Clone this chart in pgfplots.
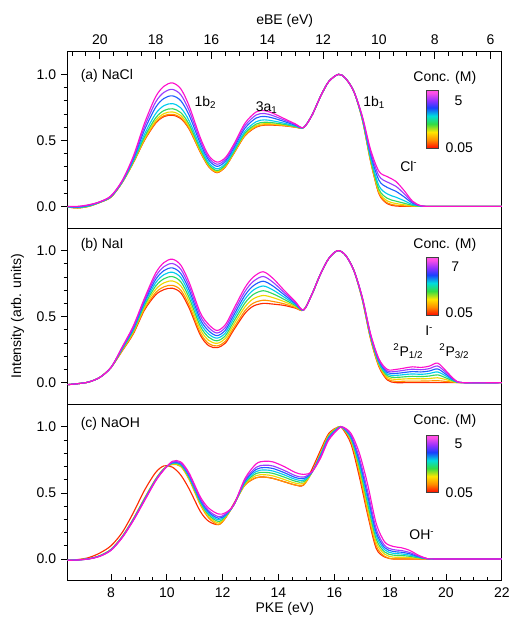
\documentclass[border=0pt]{standalone}
\usepackage{fontspec}
\setmainfont{Liberation Sans}
\usepackage{pgfplots}
\usepackage{pgfplotstable}
\pgfplotsset{compat=1.18}

\newcommand{\fs}{\fontsize{10.5}{12.6}\selectfont}

\definecolor{c1}{HTML}{FF2A00}
\definecolor{c2}{HTML}{FF9500}
\definecolor{c3}{HTML}{EED800}
\definecolor{c4}{HTML}{30D860}
\definecolor{c5}{HTML}{00CCEE}
\definecolor{c6}{HTML}{2060FF}
\definecolor{c7}{HTML}{9A3CFF}
\definecolor{c8}{HTML}{FF10CC}

\definecolor{cb1}{HTML}{FF0A00}
\definecolor{cb2}{HTML}{FF8C00}
\definecolor{cb3}{HTML}{FFE600}
\definecolor{cb4}{HTML}{33DD44}
\definecolor{cb5}{HTML}{00DDDD}
\definecolor{cb6}{HTML}{1840FF}
\definecolor{cb7}{HTML}{9030FF}
\definecolor{cb8}{HTML}{FF50E6}

\pgfdeclareverticalshading{concbar}{100bp}{color(0bp)=(cb1); color(25bp)=(cb1); color(32bp)=(cb2); color(39bp)=(cb3); color(46bp)=(cb4); color(53bp)=(cb5); color(60bp)=(cb6); color(66bp)=(cb7); color(73bp)=(cb8); color(100bp)=(cb8)}

% Panel (a) NaCl
\pgfplotstableread{
x c1 c2 c3 c4 c5 c6 c7 c8
6.45 -0.005 -0.005 -0.004 -0.004 -0.003 -0.002 -0.001 0.000
6.8 -0.012 -0.012 -0.011 -0.010 -0.008 -0.005 -0.002 0.000
7.2 0.000 0.000 0.001 0.002 0.004 0.007 0.010 0.012
7.6 0.030 0.030 0.031 0.031 0.032 0.033 0.034 0.035
8.0 0.070 0.070 0.071 0.072 0.074 0.076 0.078 0.080
8.4 0.180 0.180 0.182 0.183 0.185 0.189 0.192 0.195
8.8 0.330 0.332 0.335 0.340 0.348 0.360 0.370 0.380
9.2 0.500 0.504 0.513 0.526 0.547 0.578 0.604 0.630
9.6 0.630 0.636 0.650 0.670 0.702 0.750 0.790 0.830
9.9 0.680 0.687 0.703 0.726 0.763 0.818 0.864 0.910
10.2 0.690 0.697 0.715 0.739 0.778 0.837 0.886 0.935
10.5 0.665 0.672 0.688 0.710 0.746 0.800 0.845 0.890
10.8 0.585 0.590 0.603 0.620 0.648 0.690 0.725 0.760
11.2 0.410 0.413 0.421 0.432 0.450 0.476 0.498 0.520
11.5 0.300 0.303 0.309 0.317 0.331 0.351 0.368 0.385
11.8 0.255 0.257 0.263 0.271 0.284 0.303 0.319 0.335
12.1 0.300 0.302 0.307 0.314 0.325 0.342 0.356 0.370
12.4 0.400 0.402 0.407 0.414 0.425 0.442 0.456 0.470
12.8 0.535 0.538 0.545 0.554 0.569 0.592 0.611 0.630
13.2 0.600 0.603 0.612 0.623 0.641 0.669 0.692 0.715
13.5 0.615 0.618 0.626 0.637 0.655 0.681 0.703 0.725
13.8 0.615 0.618 0.624 0.633 0.647 0.669 0.687 0.705
14.2 0.610 0.612 0.616 0.621 0.630 0.643 0.654 0.665
14.6 0.600 0.601 0.603 0.605 0.609 0.615 0.620 0.625
14.9 0.597 0.597 0.597 0.597 0.597 0.597 0.597 0.597
15.2 0.690 0.690 0.690 0.690 0.690 0.690 0.690 0.690
15.5 0.830 0.830 0.830 0.830 0.830 0.830 0.830 0.830
15.8 0.945 0.945 0.945 0.945 0.945 0.945 0.945 0.945
16.15 1.000 1.000 1.000 1.000 1.000 1.000 1.000 1.000
16.4 0.970 0.970 0.970 0.970 0.970 0.970 0.970 0.970
16.7 0.870 0.870 0.870 0.870 0.870 0.870 0.870 0.870
17.0 0.660 0.661 0.663 0.665 0.669 0.675 0.680 0.685
17.3 0.340 0.343 0.349 0.358 0.372 0.394 0.412 0.430
17.6 0.095 0.100 0.112 0.129 0.156 0.197 0.231 0.265
17.9 0.020 0.026 0.041 0.061 0.094 0.143 0.184 0.225
18.2 0.003 0.009 0.022 0.040 0.070 0.115 0.153 0.190
18.5 0.000 0.004 0.012 0.024 0.043 0.072 0.096 0.120
18.8 0.000 0.001 0.004 0.008 0.014 0.024 0.032 0.040
19.1 0.000 0.000 0.000 0.001 0.002 0.003 0.004 0.005
19.4 0 0 0 0 0 0 0 0
20.5 0 0 0 0 0 0 0 0
22.0 0 0 0 0 0 0 0 0
}\tabA

% Panel (b) NaI
\pgfplotstableread{
x c1 c2 c3 c4 c5 c6 c7 c8
6.45 -0.015 -0.015 -0.015 -0.015 -0.015 -0.015 -0.015 -0.015
6.8 -0.008 -0.008 -0.008 -0.008 -0.008 -0.008 -0.008 -0.008
7.2 0.005 0.005 0.005 0.005 0.005 0.005 0.005 0.005
7.6 0.040 0.040 0.040 0.040 0.040 0.040 0.040 0.040
8.0 0.115 0.115 0.115 0.115 0.115 0.115 0.115 0.115
8.4 0.240 0.243 0.248 0.252 0.257 0.261 0.266 0.270
8.8 0.370 0.376 0.385 0.394 0.403 0.412 0.421 0.430
9.2 0.550 0.559 0.573 0.586 0.600 0.613 0.627 0.640
9.6 0.665 0.682 0.706 0.731 0.756 0.781 0.805 0.830
9.9 0.705 0.726 0.756 0.787 0.818 0.849 0.879 0.910
10.2 0.715 0.737 0.770 0.803 0.836 0.869 0.902 0.935
10.5 0.680 0.701 0.733 0.764 0.796 0.827 0.859 0.890
10.8 0.565 0.585 0.614 0.643 0.672 0.702 0.731 0.760
11.2 0.360 0.377 0.403 0.428 0.454 0.479 0.505 0.530
11.5 0.280 0.296 0.320 0.344 0.368 0.392 0.416 0.440
11.8 0.265 0.278 0.298 0.317 0.337 0.356 0.376 0.395
12.1 0.300 0.314 0.335 0.356 0.377 0.398 0.419 0.440
12.4 0.400 0.416 0.440 0.464 0.488 0.512 0.536 0.560
12.8 0.525 0.545 0.574 0.603 0.632 0.662 0.691 0.720
13.1 0.580 0.602 0.635 0.668 0.701 0.734 0.767 0.800
13.45 0.600 0.624 0.660 0.696 0.732 0.768 0.804 0.840
13.8 0.595 0.615 0.644 0.673 0.702 0.732 0.761 0.790
14.2 0.585 0.597 0.614 0.631 0.648 0.666 0.683 0.700
14.6 0.565 0.570 0.578 0.585 0.593 0.600 0.608 0.615
14.9 0.550 0.550 0.550 0.550 0.550 0.550 0.550 0.550
15.2 0.670 0.670 0.670 0.670 0.670 0.670 0.670 0.670
15.5 0.820 0.820 0.820 0.820 0.820 0.820 0.820 0.820
15.8 0.940 0.940 0.940 0.940 0.940 0.940 0.940 0.940
16.12 1.000 1.000 1.000 1.000 1.000 1.000 1.000 1.000
16.4 0.965 0.965 0.965 0.965 0.965 0.965 0.965 0.965
16.7 0.850 0.850 0.850 0.850 0.850 0.850 0.850 0.850
17.0 0.630 0.632 0.635 0.638 0.641 0.644 0.647 0.650
17.3 0.330 0.334 0.340 0.346 0.352 0.358 0.364 0.370
17.6 0.120 0.126 0.135 0.144 0.153 0.162 0.171 0.180
17.9 0.020 0.028 0.040 0.052 0.064 0.076 0.088 0.100
18.2 0.000 0.010 0.025 0.040 0.055 0.070 0.085 0.100
18.5 0.000 0.011 0.028 0.044 0.061 0.077 0.094 0.110
18.8 0.000 0.012 0.030 0.048 0.066 0.084 0.102 0.120
19.1 0.000 0.012 0.029 0.046 0.063 0.081 0.098 0.115
19.4 0.000 0.013 0.031 0.050 0.069 0.088 0.106 0.125
19.7 0.000 0.015 0.037 0.059 0.081 0.104 0.126 0.148
20.0 0.000 0.009 0.023 0.036 0.050 0.063 0.077 0.090
20.3 0.000 0.003 0.006 0.010 0.014 0.018 0.021 0.025
20.6 0 0 0 0 0 0 0 0
22.0 0 0 0 0 0 0 0 0
}\tabB

% Panel (c) NaOH
\pgfplotstableread{
x c1 c2 c3 c4 c5 c6 c7 c8
6.45 -0.010 -0.010 -0.010 -0.010 -0.010 -0.010 -0.010 -0.010
6.8 -0.005 -0.007 -0.007 -0.007 -0.007 -0.008 -0.008 -0.008
7.2 0.010 0.002 0.002 0.001 0.001 0.001 0.000 0.000
7.6 0.045 0.025 0.024 0.024 0.023 0.022 0.021 0.020
8.0 0.100 0.073 0.072 0.071 0.069 0.068 0.067 0.065
8.4 0.200 0.170 0.169 0.167 0.166 0.164 0.163 0.160
8.8 0.350 0.305 0.303 0.301 0.298 0.296 0.294 0.290
9.2 0.520 0.460 0.457 0.454 0.451 0.448 0.445 0.440
9.6 0.655 0.605 0.603 0.601 0.598 0.596 0.594 0.590
9.9 0.705 0.685 0.684 0.682 0.681 0.679 0.678 0.675
10.2 0.695 0.715 0.719 0.723 0.726 0.730 0.734 0.740
10.5 0.635 0.700 0.705 0.711 0.716 0.721 0.726 0.735
10.8 0.530 0.600 0.608 0.615 0.623 0.630 0.638 0.650
11.2 0.360 0.410 0.419 0.428 0.437 0.446 0.455 0.470
11.5 0.285 0.310 0.321 0.333 0.344 0.355 0.366 0.385
11.85 0.260 0.260 0.272 0.284 0.296 0.308 0.320 0.340
12.1 0.310 0.310 0.316 0.322 0.328 0.334 0.340 0.350
12.4 0.420 0.410 0.410 0.410 0.410 0.410 0.410 0.410
12.8 0.560 0.560 0.568 0.575 0.583 0.590 0.598 0.610
13.2 0.615 0.615 0.631 0.647 0.662 0.678 0.694 0.720
13.5 0.620 0.620 0.638 0.656 0.674 0.692 0.710 0.740
13.8 0.610 0.610 0.629 0.648 0.666 0.685 0.704 0.735
14.2 0.585 0.585 0.602 0.620 0.637 0.654 0.671 0.700
14.6 0.560 0.560 0.574 0.589 0.603 0.617 0.631 0.655
14.9 0.560 0.560 0.572 0.584 0.596 0.608 0.620 0.640
15.2 0.680 0.655 0.656 0.657 0.657 0.658 0.659 0.660
15.5 0.820 0.800 0.794 0.788 0.782 0.776 0.770 0.760
15.8 0.950 0.940 0.934 0.928 0.922 0.916 0.910 0.900
16.15 1.000 1.000 0.998 0.996 0.993 0.991 0.989 0.985
16.3 0.985 0.990 0.992 0.993 0.995 0.996 0.998 1.000
16.6 0.870 0.890 0.899 0.908 0.917 0.926 0.935 0.950
16.9 0.620 0.650 0.673 0.695 0.718 0.740 0.763 0.800
17.2 0.330 0.350 0.382 0.413 0.445 0.476 0.508 0.560
17.5 0.080 0.100 0.126 0.151 0.177 0.202 0.228 0.270
17.8 0.015 0.020 0.037 0.053 0.070 0.086 0.103 0.130
18.1 0.000 0.000 0.014 0.029 0.043 0.057 0.071 0.095
18.4 0.000 0.000 0.013 0.026 0.038 0.051 0.064 0.085
18.7 0.000 0.000 0.010 0.020 0.029 0.039 0.049 0.065
19.0 0.000 0.000 0.005 0.009 0.014 0.018 0.023 0.030
19.3 0.000 0.000 0.001 0.002 0.002 0.003 0.004 0.005
19.6 0 0 0 0 0 0 0 0
22.0 0 0 0 0 0 0 0 0
}\tabC

\pgfplotsset{
  panel/.style={
    width=325.5pt, height=132.2pt, scale only axis,
    xmin=6.45, xmax=22, ymin=-0.165, ymax=1.17,
    ytick={0,0.5,1}, yticklabels={0.0,0.5,1.0},
    minor y tick num=4,
    ytick pos=left, ytick align=outside, xtick align=inside,
    major tick length=5pt, minor tick length=3pt,
    axis line style={line width=0.8pt},
    tick style={black, line width=0.6pt},
    tick label style={font=\fs},
    label style={font=\fs},
    /pgf/number format/assume math mode=true,
    every node/.append style={font=\fs},
  },
  curve/.style={line width=0.85pt, smooth},
}

\begin{document}
\fs
\begin{tikzpicture}
\useasboundingbox (-50.8pt,-27.2pt) rectangle (330.2pt,435.5pt);

% ---------- (a) NaCl ----------
\begin{axis}[panel, at={(0,264.4pt)}, anchor=south west,
  xtick pos=right, xticklabel pos=right,
  xtick={7.6,9.6,11.6,13.6,15.6,17.6,19.6,21.6},
  xticklabels={20,18,16,14,12,10,8,6},
  minor xtick={6.6,7.1,8.1,8.6,9.1,10.1,10.6,11.1,12.1,12.6,13.1,14.1,14.6,15.1,16.1,16.6,17.1,18.1,18.6,19.1,20.1,20.6,21.1},
  xticklabel style={yshift=1.5pt},
  xlabel={eBE (eV)},
  xlabel style={at={(axis description cs:0.5,1.174)}, anchor=center}]
\pgfplotsinvokeforeach{1,...,8}{\addplot[c#1, curve] table[x=x, y=c#1] {\tabA};}
\node[anchor=west] at (axis cs:6.74,0.985) {(a) NaCl};
\node at (axis cs:11.38,0.79) {1b\textsubscript{2}};
\node at (axis cs:13.58,0.75) {3a\textsubscript{1}};
\node at (axis cs:17.43,0.79) {1b\textsubscript{1}};
\node at (axis cs:18.67,0.305) {Cl\textsuperscript{-}};
\node at (axis cs:19.96,0.97) {Conc. (M)};
\shade[shading=concbar, draw=black!75, line width=0.5pt] (axis cs:19.31,0.44) rectangle (axis cs:19.73,0.879);
\node at (axis cs:20.45,0.80) {5};
\node at (axis cs:20.48,0.445) {0.05};
\end{axis}

% ---------- (b) NaI ----------
\begin{axis}[panel, at={(0,132.2pt)}, anchor=south west,
  xtick=\empty,
  ylabel={Intensity (arb. units)},
  ylabel style={at={(axis description cs:-0.1157,0.5)}, anchor=center}]
\pgfplotsinvokeforeach{1,...,8}{\addplot[c#1, curve] table[x=x, y=c#1] {\tabB};}
\node[anchor=west] at (axis cs:6.74,1.04) {(b) NaI};
\node at (axis cs:19.96,1.04) {Conc. (M)};
\shade[shading=concbar, draw=black!75, line width=0.5pt] (axis cs:19.31,0.51) rectangle (axis cs:19.73,0.947);
\node at (axis cs:20.33,0.88) {7};
\node at (axis cs:20.48,0.527) {0.05};
\node at (axis cs:19.4,0.39) {I\textsuperscript{-}};
\node at (axis cs:18.65,0.237) {\textsuperscript{2}P\textsubscript{1/2}};
\node at (axis cs:20.3,0.237) {\textsuperscript{2}P\textsubscript{3/2}};
\end{axis}

% ---------- (c) NaOH ----------
\begin{axis}[panel, at={(0,0)}, anchor=south west,
  xtick pos=left,
  xtick={8,10,12,14,16,18,20,22},
  xticklabels={8,10,12,14,16,18,20,22},
  minor x tick num=3,
  xticklabel style={yshift=-1.5pt},
  xlabel={PKE (eV)},
  xlabel style={at={(axis description cs:0.5,-0.158)}, anchor=center}]
\pgfplotsinvokeforeach{1,...,8}{\addplot[c#1, curve] table[x=x, y=c#1] {\tabC};}
\node[anchor=west] at (axis cs:6.74,1.02) {(c) NaOH};
\node at (axis cs:19.96,1.045) {Conc. (M)};
\shade[shading=concbar, draw=black!75, line width=0.5pt] (axis cs:19.31,0.505) rectangle (axis cs:19.73,0.937);
\node at (axis cs:20.45,0.876) {5};
\node at (axis cs:20.48,0.505) {0.05};
\node at (axis cs:19.14,0.185) {OH\textsuperscript{-}};
\end{axis}
\end{tikzpicture}
\end{document}
